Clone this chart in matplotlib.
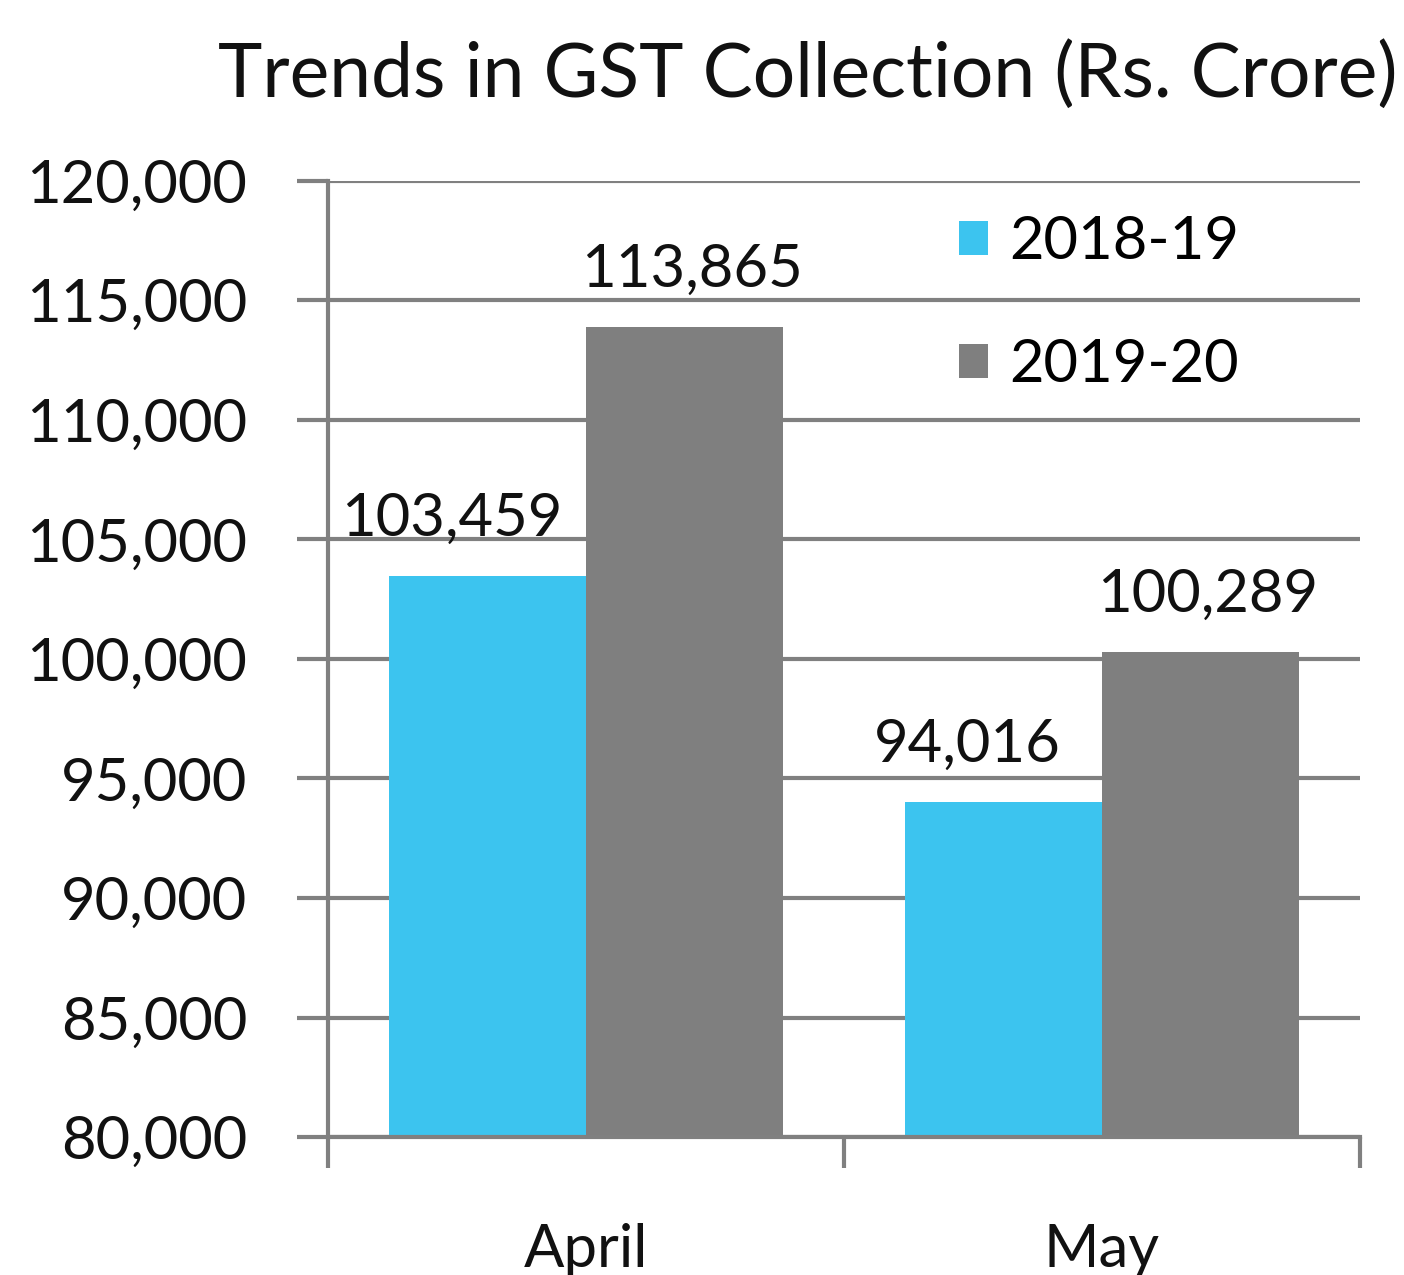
#!/usr/bin/env python3
"""Trends in GST collection, April vs May, grouped bars."""

import matplotlib
matplotlib.use("Agg")
import matplotlib.pyplot as plt
import numpy as np
from matplotlib.ticker import FuncFormatter

months = ["April", "May"]
series_names = ["2018-19", "2019-20"]
gst_2018_19 = [103459, 94016]
gst_2019_20 = [113865, 100289]
colors = ["#3cc4ef", "#7f7f7f"]

plt.rcParams["font.family"] = ["Lato", "DejaVu Sans"]

fig = plt.figure(figsize=(14.04, 12.75), dpi=100)
ax = fig.add_axes([0.2336, 0.1082, 0.735, 0.750])

x = np.arange(len(months))
width = 0.382
vals = [gst_2018_19, gst_2019_20]
label_shift = [-26, 5]  # points; the source nudges value labels sideways
for i, (name, v, c) in enumerate(zip(series_names, vals, colors)):
    pos = x + (i - 0.5) * width
    ax.bar(pos, v, width, color=c, label=name, zorder=3)
    for px, val in zip(pos, v):
        ax.annotate(f"{val:,}", (px, val), xytext=(label_shift[i], 22),
                    textcoords="offset points", ha="center", va="bottom",
                    fontsize=43, color="#111111")

ax.set_xlim(-0.5, 1.5)
ax.set_ylim(80000, 120000)
ax.set_yticks(np.arange(80000, 120001, 5000))
ax.yaxis.set_major_formatter(FuncFormatter(lambda v, p: f"{int(v):,}"))
ax.tick_params(axis="y", labelsize=43, length=22, width=3, color="#808080",
               pad=36, labelcolor="#111111")
ax.grid(axis="y", color="#808080", linewidth=3, zorder=0)

ax.set_xticks([-0.5, 0.5, 1.5])
ax.set_xticklabels([])
ax.set_xticks(x, minor=True)
ax.set_xticklabels(months, minor=True)
ax.tick_params(axis="x", which="major", length=22, width=3, color="#808080")
ax.tick_params(axis="x", which="minor", length=0, labelsize=43, pad=62,
               labelcolor="#111111")

for s in ["top", "right"]:
    ax.spines[s].set_visible(False)
for s in ["left", "bottom"]:
    ax.spines[s].set_color("#808080")
    ax.spines[s].set_linewidth(3)
    ax.spines[s].set_zorder(4)

ax.legend(loc="upper left", bbox_to_anchor=(0.559, 1.02), frameon=False,
          fontsize=43, handlelength=0.5, handleheight=0.5, handletextpad=0.35,
          labelspacing=1.15)

fig.text(0.5755, 0.941, "Trends in GST Collection (Rs. Crore)", ha="center",
         va="center", fontsize=54, color="#111111")

fig.savefig("out.png", dpi=100, facecolor="white")
